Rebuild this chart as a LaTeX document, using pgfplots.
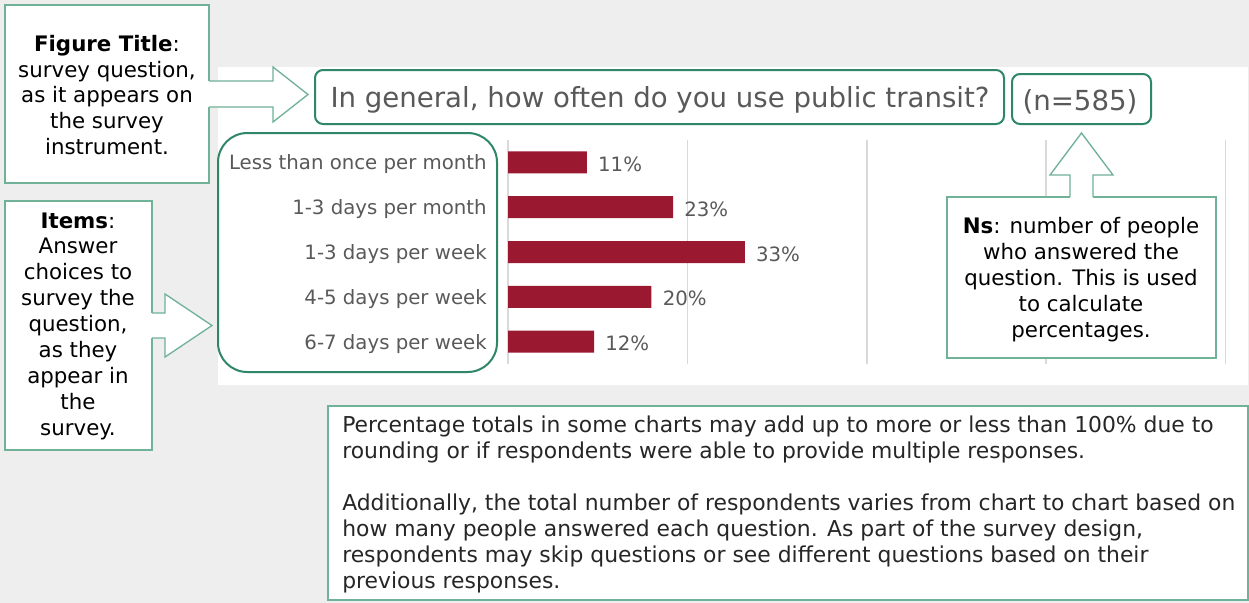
\documentclass[border=0pt]{standalone}
\usepackage{fontspec}
\setmainfont{DejaVu Sans}
\usepackage{pgfplots}
\pgfplotsset{compat=1.18}
\definecolor{bggray}{RGB}{238,238,238}
\definecolor{darkgreen}{RGB}{47,135,103}
\definecolor{lightgreen}{RGB}{112,178,152}
\definecolor{barred}{RGB}{155,25,48}
\definecolor{txtgray}{RGB}{89,89,89}
\definecolor{gridgray}{RGB}{217,217,217}
\definecolor{notetext}{RGB}{38,38,38}
\begin{document}
\begin{tikzpicture}[x=0.75pt,y=-0.75pt]
\fill[bggray] (0,0) rectangle (1249,603);
\fill[white] (218,67) rectangle (1248,385);
\coordinate (axorig) at (508,364);
\begin{axis}[at={(axorig)}, anchor=south west, scale only axis,
  width=538.1pt, height=168pt,
  xbar, bar width=16.5pt,
  xmin=0, xmax=100, ymin=-0.5, ymax=4.5,
  xtick={0,25,50,75,100}, xticklabels={},
  xmajorgrids, grid style={gridgray, line width=1.2pt},
  axis line style={draw=none}, major tick length=0pt,
  ytick={0,1,2,3,4},
  yticklabels={6-7 days per week,4-5 days per week,1-3 days per week,1-3 days per month,Less than once per month},
  yticklabel style={inner sep=0pt, xshift=-15.75pt, yshift=-1.5pt, font=\fontsize{14.8}{17}\selectfont, text=txtgray},
  point meta=x,
  nodes near coords={\pgfmathprintnumber{\pgfplotspointmeta}\%},
  nodes near coords style={anchor=west, inner sep=0pt, xshift=8.25pt, yshift=-1.5pt, font=\fontsize{14.8}{17}\selectfont, text=txtgray},
  /pgf/number format/assume math mode=true,
  clip=false]
\addplot[fill=barred, draw=none] coordinates {(12,0) (20,1) (33,2) (23,3) (11,4)};
\end{axis}
% title boxes
\draw[darkgreen, line width=1.5pt, rounded corners=6pt] (315,70) rectangle (1004,124);
\node[text=txtgray, font=\fontsize{20.7}{24}\selectfont] at (660,100) {In general, how often do you use public transit?};
\draw[darkgreen, line width=1.5pt, rounded corners=6pt] (1012,74) rectangle (1151,124);
\node[text=txtgray, font=\fontsize{20.7}{24}\selectfont] at (1080,101.5) {(n=585)};
% labels box
\draw[darkgreen, line width=1.5pt, rounded corners=22pt] (218,133) rectangle (497,372);
% annotation boxes
\draw[lightgreen, fill=white, line width=1pt] (5,5) rectangle (209,183);
\draw[lightgreen, fill=white, line width=1pt] (5,201) rectangle (152,450);
\draw[lightgreen, fill=white, line width=1pt] (947,197) rectangle (1216,358);
\draw[lightgreen, fill=white, line width=1pt] (328,406) rectangle (1248,600);
% arrow 1
\fill[white] (208,81) -- (273,81) -- (273,67) -- (308,94.5) -- (273,122) -- (273,107) -- (208,107) -- cycle;
\draw[lightgreen, line width=1pt] (209,81) -- (273,81) -- (273,67) -- (308,94.5) -- (273,122) -- (273,107) -- (209,107);
% arrow 2
\fill[white] (151,313) -- (165,313) -- (165,294) -- (212,325.5) -- (165,357) -- (165,338) -- (151,338) -- cycle;
\draw[lightgreen, line width=1pt] (152,313) -- (165,313) -- (165,294) -- (212,325.5) -- (165,357) -- (165,338) -- (152,338);
% arrow 3
\fill[white] (1070,198) -- (1070,175) -- (1050,175) -- (1081.5,133) -- (1113,175) -- (1093,175) -- (1093,198) -- cycle;
\draw[lightgreen, line width=1pt] (1070,197) -- (1070,175) -- (1050,175) -- (1081.5,133) -- (1113,175) -- (1093,175) -- (1093,197);
% annotation texts
\node[align=center, font=\fontsize{16}{19.2}\selectfont] at (107,95) {\textbf{Figure Title}:\\survey question,\\as it appears on\\the survey\\instrument.};
\node[align=center, font=\fontsize{16}{19.4}\selectfont] at (78,326) {\textbf{Items}:\\Answer\\choices to\\survey the\\question,\\as they\\appear in\\the\\survey.};
\node[align=center, font=\fontsize{16}{19.5}\selectfont] at (1081,279.5) {\textbf{Ns}: number of people\\who answered the\\question. This is used\\to calculate\\percentages.};
\node[anchor=north west, align=left, inner sep=0pt, text=notetext, font=\fontsize{16.4}{19.5}\selectfont] at (342,416) {Percentage totals in some charts may add up to more or less than 100\% due to\\rounding or if respondents were able to provide multiple responses.\\[19.5pt]Additionally, the total number of respondents varies from chart to chart based on\\how many people answered each question. As part of the survey design,\\respondents may skip questions or see different questions based on their\\previous responses.};
\pgfresetboundingbox
\path[use as bounding box] (0,0) rectangle (1249,603);
\end{tikzpicture}
\end{document}
